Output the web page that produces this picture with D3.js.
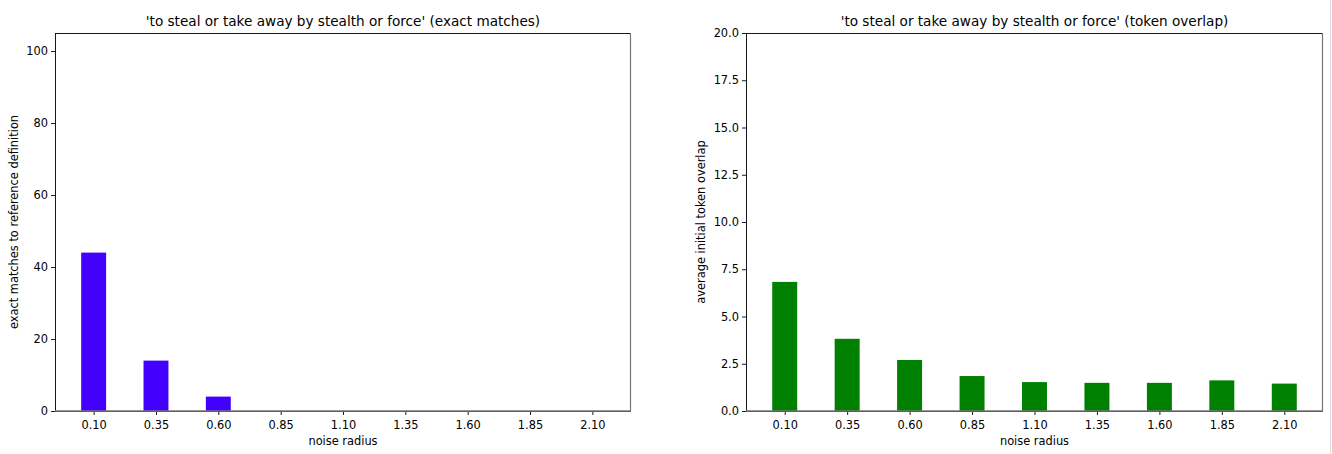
<!DOCTYPE html>
<html><head><meta charset="utf-8">
<script src="https://cdn.jsdelivr.net/npm/d3@7"></script>
<style>
body{margin:0;background:#fff;}
svg{display:block;font-family:"DejaVu Sans",sans-serif;}
</style></head>
<body><svg id="c" width="1332" height="454"></svg>
<script>
const radii = [0.10, 0.35, 0.60, 0.85, 1.10, 1.35, 1.60, 1.85, 2.10];
const tickLabels = ["0.10","0.35","0.60","0.85","1.10","1.35","1.60","1.85","2.10"];
const exactMatches = [44, 14, 4, 0, 0, 0, 0, 0, 0];
const tokenOverlap = [6.83, 3.82, 2.70, 1.85, 1.53, 1.49, 1.49, 1.62, 1.45];
const leftYTicks = [0, 20, 40, 60, 80, 100];
const rightYTicks = [0, 2.5, 5, 7.5, 10, 12.5, 15, 17.5, 20];

const svg = d3.select("#c");
svg.append("rect").attr("width",1332).attr("height",454).attr("fill","#fff");
svg.append("line").attr("x1",1330.5).attr("x2",1330.5).attr("y1",0).attr("y2",454).attr("stroke","#ddd");

const tickFont = 11.4;
function panel(o){
  const g = svg.append("g");
  const x = d3.scaleLinear().domain([-0.055, 2.255]).range([o.x0, o.x1]);
  const y = d3.scaleLinear().domain(o.ydom).range([411, 33]);
  const bw = x(0.1) - x(0);
  g.selectAll("rect.bar").data(o.values).join("rect")
    .attr("x",(d,i)=>x(radii[i]) - bw/2)
    .attr("width",bw)
    .attr("y",d=>y(d))
    .attr("height",d=>y(0)-y(d))
    .attr("fill",o.color);
  const xa = d3.axisBottom(x).tickValues(radii).tickFormat((d,i)=>tickLabels[i]).tickSize(4).tickSizeOuter(0);
  const xg = g.append("g").attr("transform","translate(0,411)").call(xa);
  const ya = d3.axisLeft(y).tickValues(o.yticks).tickFormat(o.yfmt).tickSize(4).tickSizeOuter(0);
  const yg = g.append("g").attr("transform",`translate(${o.x0},0)`).call(ya);
  [xg,yg].forEach(a=>{
    a.select(".domain").remove();
    a.selectAll("text").attr("font-size",tickFont).attr("font-family","DejaVu Sans").attr("fill","#000");
    a.selectAll("line").attr("stroke","#000").attr("stroke-width",0.9);
  });
  xg.selectAll("text").attr("y",8).attr("dy","0.85em");
  yg.selectAll("text").attr("x",-7);
  g.append("rect").attr("x",o.x0+0.5).attr("y",33.5).attr("width",o.x1-o.x0-1).attr("height",378)
    .attr("fill","none").attr("stroke","#000").attr("stroke-width",0.9);
  g.append("line").attr("x1",o.x0).attr("x2",o.x1).attr("y1",411).attr("y2",411).attr("stroke","#777").attr("stroke-width",1.6);
  g.append("line").attr("x1",o.x1-0.5).attr("x2",o.x1-0.5).attr("y1",33).attr("y2",411).attr("stroke","#777").attr("stroke-width",1.2);
  g.append("text").attr("x",(o.x0+o.x1)/2).attr("y",26).attr("text-anchor","middle")
    .attr("font-size",13.6).text(o.title);
  g.append("text").attr("x",(o.x0+o.x1)/2).attr("y",445).attr("text-anchor","middle")
    .attr("font-size",tickFont).text("noise radius");
  g.append("text").attr("transform",`translate(${o.ylx},222) rotate(-90)`).attr("text-anchor","middle")
    .attr("font-size",tickFont).text(o.ylabel);
}

panel({x0:55,x1:631,ydom:[0,105],values:exactMatches,color:"#4400ff",yticks:leftYTicks,yfmt:d3.format("d"),
  title:"'to steal or take away by stealth or force' (exact matches)",
  ylabel:"exact matches to reference definition",ylx:18});
panel({x0:746,x1:1323,ydom:[0,20],values:tokenOverlap,color:"#008000",yticks:rightYTicks,yfmt:d3.format(".1f"),
  title:"'to steal or take away by stealth or force' (token overlap)",
  ylabel:"average initial token overlap",ylx:705});
</script></body></html>
